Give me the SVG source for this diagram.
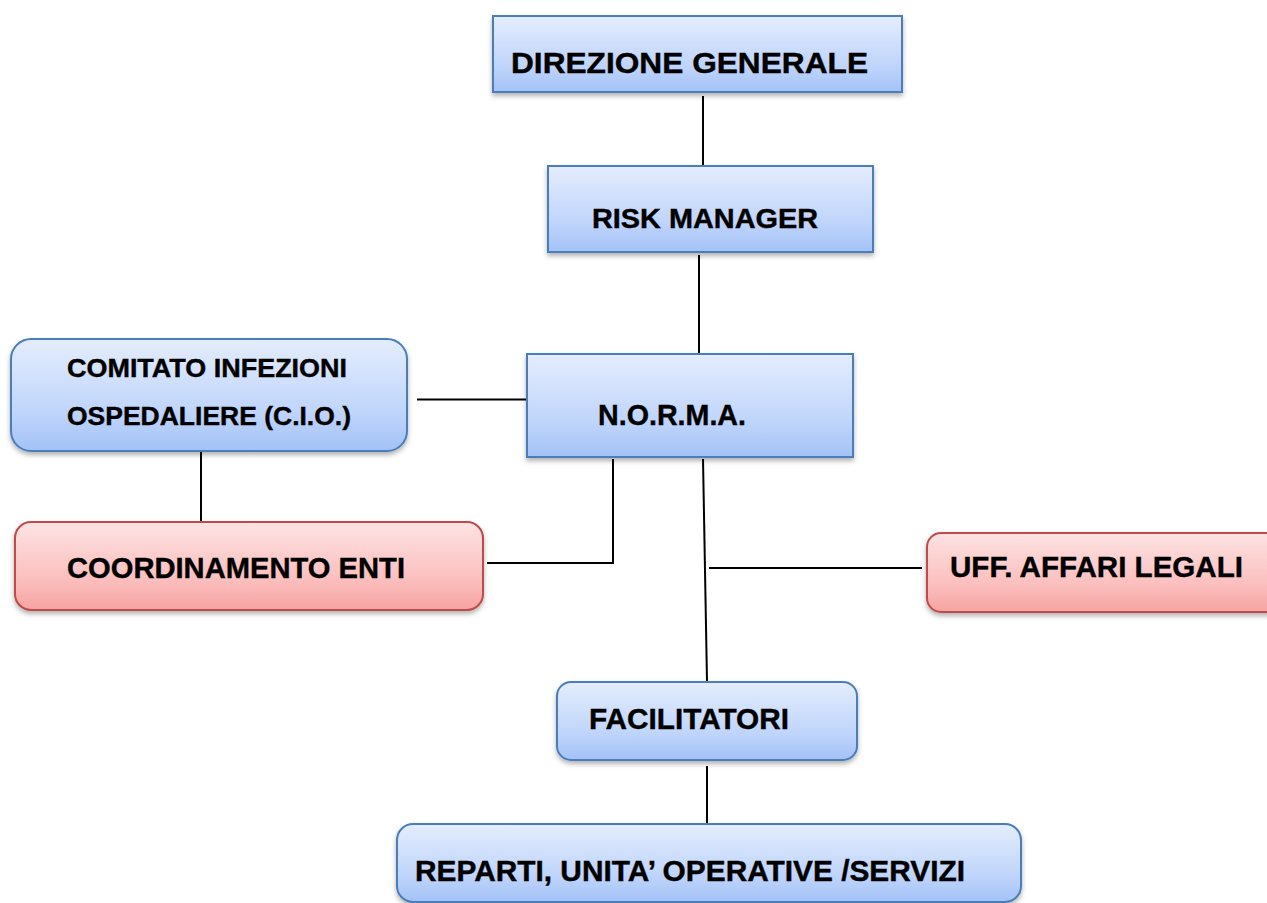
<svg xmlns="http://www.w3.org/2000/svg" width="1267" height="903" viewBox="0 0 1267 903">
<style>
.blue{fill:url(#gBlue);stroke:#4a7ebb;stroke-width:2;filter:url(#sh)}
.red{fill:url(#gRed);stroke:#be4b48;stroke-width:2;filter:url(#sh)}
.t{font-family:"Liberation Sans",Arial,sans-serif;font-weight:bold;fill:#000;stroke:#000;stroke-width:0.4}
.c{stroke:#000;stroke-width:2;fill:none}
</style>
<defs>
<linearGradient id="gBlue" x1="0" y1="0" x2="0" y2="1">
<stop offset="0" stop-color="#e4edfd"/>
<stop offset="0.65" stop-color="#c0d5fb"/>
<stop offset="1" stop-color="#a3c2f6"/>
</linearGradient>
<linearGradient id="gRed" x1="0" y1="0" x2="0" y2="1">
<stop offset="0" stop-color="#fde3e3"/>
<stop offset="0.65" stop-color="#fbbfbe"/>
<stop offset="1" stop-color="#f6a4a2"/>
</linearGradient>
<filter id="sh" x="-10%" y="-20%" width="120%" height="150%">
<feDropShadow dx="0" dy="3" stdDeviation="2.5" flood-color="#000" flood-opacity="0.3"/>
</filter>
</defs>
<rect width="1267" height="903" fill="#fff"/>
<g id="connectors">
<line class="c" x1="703" y1="96" x2="703" y2="165"/>
<line class="c" x1="699" y1="255" x2="699" y2="354"/>
<line class="c" x1="417" y1="399.5" x2="527" y2="399.5"/>
<line class="c" x1="201" y1="452" x2="201" y2="522"/>
<polyline class="c" points="613,459 613,563 487,563"/>
<line class="c" x1="703" y1="459" x2="707" y2="681"/>
<line class="c" x1="709" y1="568" x2="922" y2="568"/>
<line class="c" x1="707" y1="766" x2="707" y2="823"/>
</g>
<g id="direzione-generale">
<rect class="blue" x="493" y="16" width="409" height="76"/>
<text class="t" x="511" y="73" font-size="30" textLength="357" lengthAdjust="spacingAndGlyphs">DIREZIONE GENERALE</text>
</g>
<g id="risk-manager">
<rect class="blue" x="548" y="166" width="325" height="86"/>
<text class="t" x="592" y="228" font-size="27" textLength="226" lengthAdjust="spacingAndGlyphs">RISK MANAGER</text>
</g>
<g id="cio">
<rect class="blue" x="11" y="339" width="396" height="112" rx="20"/>
<text class="t" x="67" y="377" font-size="26" textLength="280" lengthAdjust="spacingAndGlyphs">COMITATO INFEZIONI</text>
<text class="t" x="67" y="425" font-size="26" textLength="284" lengthAdjust="spacingAndGlyphs">OSPEDALIERE (C.I.O.)</text>
</g>
<g id="norma">
<rect class="blue" x="527" y="354" width="326" height="103"/>
<text class="t" x="598" y="425" font-size="30" textLength="148" lengthAdjust="spacingAndGlyphs">N.O.R.M.A.</text>
</g>
<g id="coordinamento-enti">
<rect class="red" x="15" y="522" width="468" height="88" rx="16"/>
<text class="t" x="67" y="578" font-size="30" textLength="338" lengthAdjust="spacingAndGlyphs">COORDINAMENTO ENTI</text>
</g>
<g id="affari-legali">
<rect class="red" x="927" y="533" width="360" height="79" rx="14"/>
<text class="t" x="950" y="577" font-size="29" textLength="293" lengthAdjust="spacingAndGlyphs">UFF. AFFARI LEGALI</text>
</g>
<g id="facilitatori">
<rect class="blue" x="557" y="682" width="300" height="78" rx="14"/>
<text class="t" x="589" y="729" font-size="30" textLength="200" lengthAdjust="spacingAndGlyphs">FACILITATORI</text>
</g>
<g id="reparti">
<rect class="blue" x="397" y="824" width="624" height="78" rx="16"/>
<text class="t" x="415" y="881" font-size="29" textLength="550" lengthAdjust="spacingAndGlyphs">REPARTI, UNITA’ OPERATIVE /SERVIZI</text>
</g>
</svg>
